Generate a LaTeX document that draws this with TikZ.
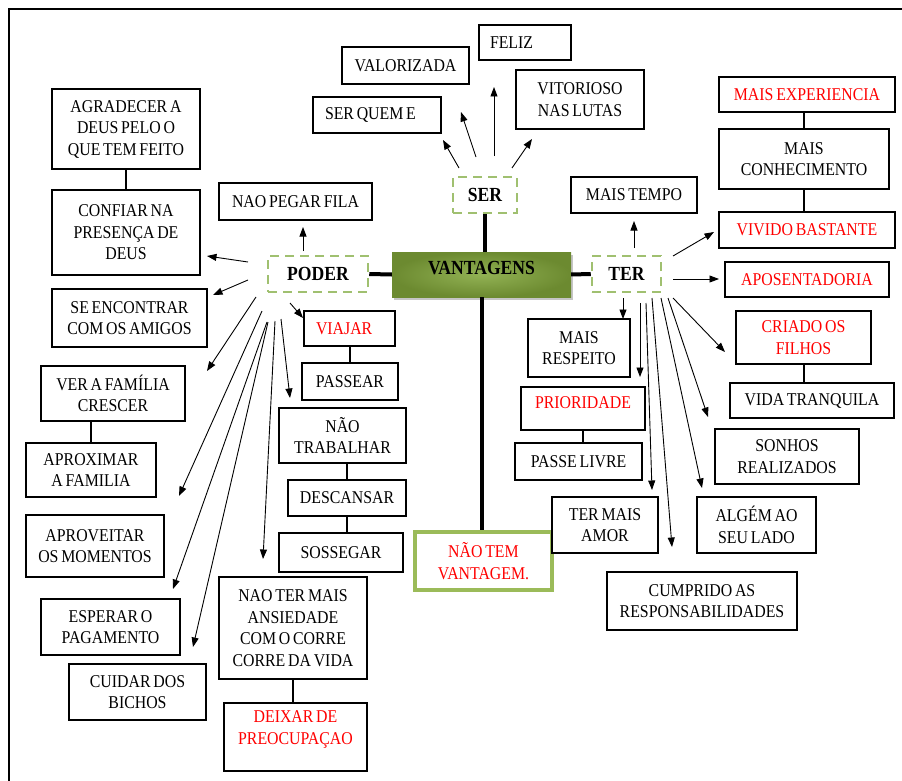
\documentclass[tikz,border=0pt]{standalone}
\usepackage{fontspec}
\setmainfont{Liberation Serif}[FakeStretch=0.88, WordSpace=0.7]
\usepackage{tikz}
\usetikzlibrary{arrows.meta,positioning,shadows,calc}
\definecolor{dashgreen}{RGB}{160,192,112}
\definecolor{framegreen}{RGB}{155,187,89}
\definecolor{olivein}{RGB}{146,178,84}
\definecolor{oliveout}{RGB}{108,138,48}
\newcommand{\boxfont}{\fontsize{18}{21.5}\selectfont}
\newcommand{\hubfont}{\fontsize{20}{24}\selectfont\bfseries}
\tikzset{
    box/.style={
                draw=black,
                line width=1.2pt,
                fill=white,
                align=center,
                inner sep=2pt,
                font=\boxfont
            },
    redbox/.style={box, text=red},
    leftbox/.style={box, align=flush left, inner xsep=11pt, text width=#1},
    hub/.style={
                draw=dashgreen,
                fill=white,
                line width=2.5pt,
                dash pattern=on 9pt off 6pt,
                inner sep=2pt,
                font=\hubfont
            },
    vantbox/.style={
                inner color=olivein,
                outer color=oliveout,
                drop shadow={shadow xshift=2pt, shadow yshift=-3pt, fill=black!45},
                inner sep=2pt,
                text depth=14pt,
                font=\hubfont
            },
    sz/.style 2 args={minimum width=#1, minimum height=#2},
    arr/.style={-{Triangle[length=9.5pt,width=7pt]}, line width=0.9pt},
    link/.style={line width=2pt},
    trunk/.style={line width=4pt},
}

\begin{document}
\begin{tikzpicture}[x=1pt, y=-1pt]
\useasboundingbox (0,0) rectangle (902,781);
\draw[line width=2.5pt] (9,781) -- (9,9) -- (902,9);

% Center and hubs
\node[vantbox, sz={179}{45}] (vant) at (481.5,274.5) {VANTAGENS};
\node[hub, sz={64}{36}] (ser) at (485,195) {SER};
\node[hub, sz={100}{36}] (poder) at (318,274) {PODER};
\node[hub, sz={69}{36}] (ter) at (626.5,274) {TER};
\node[redbox, draw=framegreen, line width=3.5pt, sz={137}{58}] (naotem) at (483.5,561) {NÃO TEM\\VANTAGEM.};

% Ser
\node[box, sz={127}{37}] (valor) at (405.5,65.5) {VALORIZADA};
\node[leftbox=70pt, sz={92}{35}] (feliz) at (525,42.5) {FELIZ};
\node[leftbox=104pt, inner xsep=12pt, sz={128}{36}] (serquem) at (377,115) {SER QUEM E};
\node[box, sz={128}{59}] (vitor) at (580,99.5) {VITORIOSO\\NAS LUTAS};

% Poder
\node[box, sz={148}{80}] (agrad) at (126,129) {AGRADECER A\\DEUS PELO O\\QUE TEM FEITO};
\node[box, sz={148}{85}] (confiar) at (126,232.5) {CONFIAR NA\\PRESENÇA DE\\DEUS};
\node[box, sz={153}{37}] (fila) at (295.5,201.5) {NAO PEGAR FILA};
\node[box, sz={155}{58}] (encontrar) at (129.5,318) {SE ENCONTRAR\\COM OS AMIGOS};
\node[box, sz={144}{55}] (verfam) at (113,393.5) {VER A FAMÍLIA\\CRESCER};
\node[box, sz={130}{54}] (aproximar) at (91,470) {APROXIMAR\\A FAMILIA};
\node[box, sz={138}{62}] (aproveitar) at (95,546) {APROVEITAR\\OS MOMENTOS};
\node[box, sz={139}{56}] (esperar) at (110.5,627) {ESPERAR O\\PAGAMENTO};
\node[box, sz={137}{56}] (cuidar) at (137.5,692) {CUIDAR DOS\\BICHOS};
\node[box, sz={148}{102}] (naoter) at (293,628) {NAO TER MAIS\\ANSIEDADE\\COM O CORRE\\CORRE DA VIDA};
\node[redbox, text depth=19pt, sz={143}{68}] (deixar) at (295.5,737) {DEIXAR DE\\PREOCUPAÇAO};
\node[leftbox=67pt, inner xsep=12pt, text=red, sz={91}{35}] (viajar) at (349.5,328.5) {VIAJAR};
\node[box, sz={96}{37}] (passear) at (350,381.5) {PASSEAR};
\node[box, sz={127}{55}] (trabalhar) at (342.5,435.5) {NÃO\\TRABALHAR};
\node[box, sz={118}{36}] (descansar) at (347,498) {DESCANSAR};
\node[box, sz={124}{39}] (sossegar) at (341,552.5) {SOSSEGAR};

% Ter
\node[box, sz={126}{36}] (tempo) at (634,195) {MAIS TEMPO};
\node[redbox, sz={176}{35}] (experiencia) at (807,94.5) {MAIS EXPERIENCIA};
\node[box, sz={170}{60}] (conhec) at (804,159) {MAIS\\CONHECIMENTO};
\node[redbox, sz={176}{36}] (vivido) at (807,230) {VIVIDO BASTANTE};
\node[redbox, sz={164}{35}] (aposent) at (807,279.5) {APOSENTADORIA};
\node[box, sz={102}{58}] (respeito) at (579,348) {MAIS\\RESPEITO};
\node[redbox, text depth=11pt, sz={124}{43}] (prioridade) at (583,408.5) {PRIORIDADE};
\node[box, sz={127}{37}] (passelivre) at (578.5,461.5) {PASSE LIVRE};
\node[box, sz={106}{56}] (amor) at (605,525) {TER MAIS\\AMOR};
\node[redbox, sz={135}{53}] (criado) at (803.5,337.5) {CRIADO OS\\FILHOS};
\node[box, sz={164}{35}] (tranquila) at (812,400.5) {VIDA TRANQUILA};
\node[box, sz={144}{55}] (sonhos) at (787,456.5) {SONHOS\\REALIZADOS};
\node[box, sz={119}{56}] (algem) at (756.5,525) {ALGÉM AO\\SEU LADO};
\node[box, sz={190}{58}] (cumprido) at (702,601) {CUMPRIDO AS\\RESPONSABILIDADES};

% Trunk
\draw[trunk] (vant.west) -- (poder.east);
\draw[trunk] (vant.east) -- (ter.west);
\draw[trunk] (ser.south) -- (ser.south |- vant.north);
\draw[trunk] (vant.south) -- (vant.south |- naotem.north);

% Links
\draw[link] (agrad) -- (confiar);
\draw[link] (aproximar.north) -- (aproximar.north |- verfam.south);
\draw[link] (viajar.south) -- (viajar.south |- passear.north);
\draw[link] (descansar.north) -- (descansar.north |- trabalhar.south);
\draw[link] (descansar.south) -- (descansar.south |- sossegar.north);
\draw[link] (naoter.south) -- (naoter.south |- deixar.north);
\draw[link] (conhec.north) -- (conhec.north |- experiencia.south);
\draw[link] (conhec.south) -- (conhec.south |- vivido.north);
\draw[link] (prioridade.south) -- (prioridade.south |- passelivre.north);
\draw[link] (criado.south) -- (criado.south |- tranquila.north);

% Arrows from SER
\draw[arr] ($(ser)+(-26,-27)$) -- ($(serquem)+(66,25)$);
\draw[arr] ($(ser)+(-9,-38)$) -- ($(valor)+(55.5,46.5)$);
\draw[arr] ($(ser)+(9,-39)$) -- ($(feliz)+(-31,44.5)$);
\draw[arr] ($(ser)+(27,-27)$) -- ($(vitor)+(-48,39.5)$);

% Arrows from PODER
\draw[arr] ($(poder)+(-15,-23)$) -- ($(fila)+(7.5,25.5)$);
\draw[arr] ($(poder)+(-70,-12)$) -- ($(confiar)+(81,23.5)$);
\draw[arr] ($(poder)+(-70,6)$) -- ($(encontrar)+(83.5,-23)$);
\draw[arr] ($(poder)+(-62,23)$) -- ($(verfam)+(94,-22.5)$);
\draw[arr] ($(poder)+(-56,37)$) -- ($(aproveitar)+(84,-50)$);
\draw[arr] ($(poder)+(-51,48)$) -- ($(esperar)+(62.5,-38)$);
\draw[arr] ($(poder)+(-50,48)$) -- ($(cuidar)+(55.5,-45)$);
\draw[arr] ($(poder)+(-43,47)$) -- ($(naoter)+(-30,-69)$);
\draw[arr] ($(poder)+(-37,45)$) -- ($(trabalhar)+(-52.5,-37.5)$);
\draw[arr] ($(poder)+(-28,29)$) -- ($(viajar)+(-46.5,-10.5)$);

% Arrows from TER
\draw[arr] ($(ter)+(7.5,-26)$) -- ($(tempo)+(0,26)$);
\draw[arr] ($(ter)+(46.5,-18)$) -- ($(vivido)+(-93,2)$);
\draw[arr] ($(ter)+(46.5,5)$) -- ($(aposent)+(-88,-0.5)$);
\draw[arr] ($(ter)+(-3.5,24)$) -- ($(respeito)+(44,-29)$);
\draw[arr] ($(ter)+(13.5,29)$) -- ($(prioridade)+(57,-31.5)$);
\draw[arr] ($(ter)+(19.5,29)$) -- ($(amor)+(47,-35)$);
\draw[arr] ($(ter)+(25.5,24)$) -- ($(cumprido)+(-30,-54)$);
\draw[arr] ($(ter)+(34.5,24)$) -- ($(algem)+(-54.5,-37)$);
\draw[arr] ($(ter)+(41.5,24)$) -- ($(sonhos)+(-79,-39.5)$);
\draw[arr] ($(ter)+(46.5,24)$) -- ($(criado)+(-78.5,14.5)$);
\end{tikzpicture}
\end{document}
